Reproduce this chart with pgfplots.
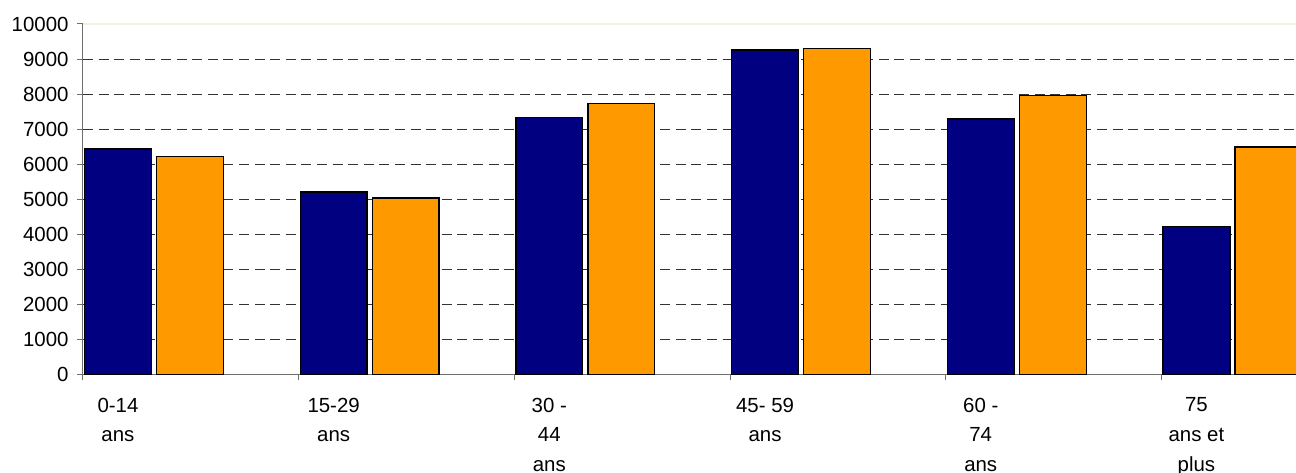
\documentclass[border=0pt]{standalone}
\usepackage{fontspec}
\setmainfont{Liberation Sans}
\usepackage{pgfplots}
\pgfplotsset{compat=1.18}
\definecolor{navybar}{RGB}{0,0,128}
\definecolor{orangebar}{RGB}{255,153,0}
\definecolor{axisgray}{RGB}{110,110,110}
\definecolor{topline}{RGB}{242,242,220}

\begin{document}
\begin{tikzpicture}
\begin{axis}[
    scale only axis,
    width=1213bp, height=350.3bp,
    xmin=0, xmax=5.6236,
    ymin=0, ymax=10000,
    axis lines=left,
    axis line style={-, axisgray, line width=1bp},
    tick align=outside,
    major tick length=6bp,
    tick style={axisgray, line width=1bp},
    xtick={0,1,2,3,4,5},
    xticklabels={},
    extra x ticks={0.162,1.162,2.162,3.162,4.162,5.162},
    extra x tick labels={{0-14\\ans},{15-29\\ans},{30 -\\44\\ans},{45- 59\\ans},{60 -\\74\\ans},{75\\ans et\\plus}},
    extra x tick style={major tick length=0pt,
        xticklabel style={align=center, font=\fontsize{20.5}{30}\selectfont, yshift=-20bp}},
    ytick={0,1000,...,10000},
    scaled y ticks=false,
    extra y ticks={1000,2000,...,9000},
    extra y tick labels={},
    extra y tick style={grid=major, major tick length=0pt},
    grid style={black!80, line width=1bp, dash pattern=on 10bp off 5.6bp},
    yticklabel style={font=\fontsize{20.5}{24}\selectfont, xshift=-5bp},
    /pgf/number format/assume math mode=true,
    /pgf/number format/fixed,
    /pgf/number format/1000 sep={},
    ybar, bar width=0.31, bar shift=0pt,
    clip=true,
]
\draw[topline, line width=1.2bp] (rel axis cs:0,1) -- (rel axis cs:1,1);
\addplot[fill=navybar, draw=black, line width=1.3bp] coordinates {
    (0.162,6430) (1.162,5200) (2.162,7340) (3.162,9260) (4.162,7290) (5.162,4220)
};
\addplot[fill=orangebar, draw=black, line width=1.3bp] coordinates {
    (0.496,6210) (1.496,5030) (2.496,7730) (3.496,9310) (4.496,7950) (5.496,6490)
};
\end{axis}
\pgfresetboundingbox
\path (-83bp,-98.7bp) rectangle (1213bp,374.3bp);
\end{tikzpicture}
\end{document}
